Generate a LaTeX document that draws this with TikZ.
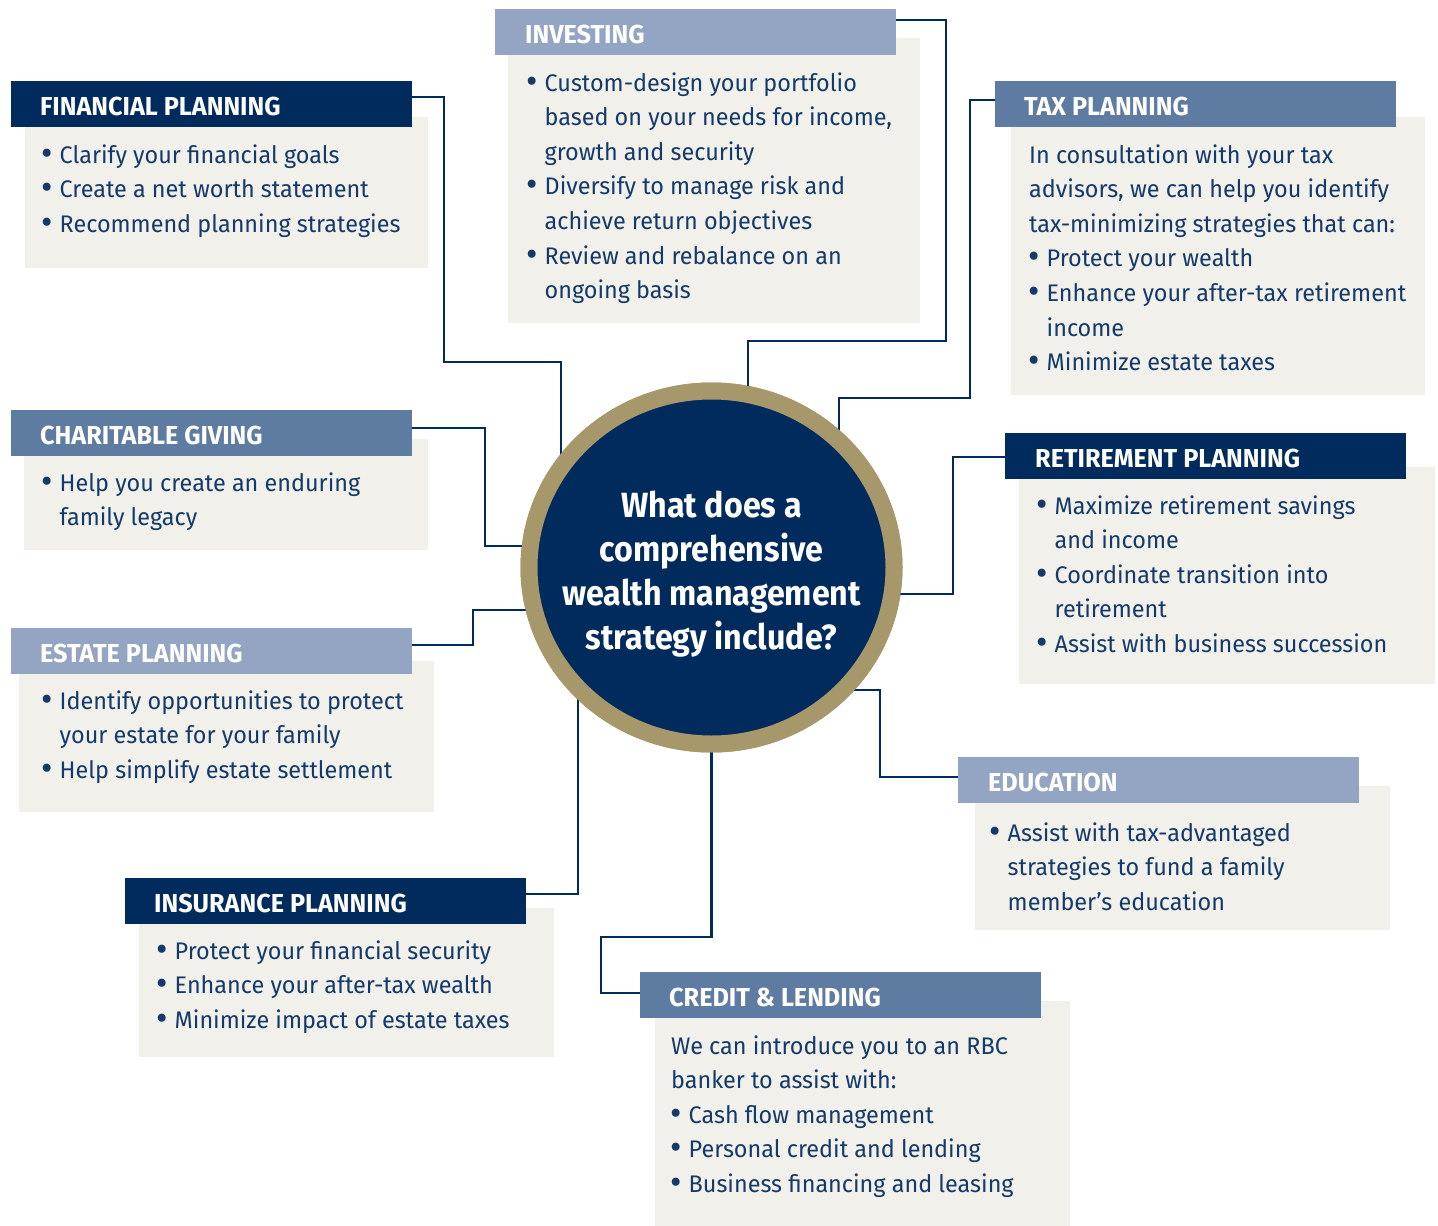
\documentclass[tikz,border=0pt]{standalone}
\usepackage{fontspec}
\setmainfont{Fira Sans}[FakeStretch=0.975]
\newfontfamily\hdfont{Fira Sans}[FakeStretch=0.97]
\newfontfamily\qfont{Fira Sans}[FakeStretch=0.92]
\usetikzlibrary{shapes.geometric}
\definecolor{navy}{HTML}{002B5C}
\definecolor{midblue}{HTML}{5E7BA2}
\definecolor{lightblue}{HTML}{93A5C3}
\definecolor{greybox}{HTML}{F1F0EB}
\definecolor{gold}{HTML}{A6986B}
\definecolor{txt}{HTML}{143A69}
\newcommand\bdot{\raisebox{-2pt}{\fontsize{36}{36}\selectfont\textbullet}}
\newcommand\bul[1]{\hbox{\makebox[17.5pt][l]{\kern-1pt\bdot}#1}}
\newcommand\cont[1]{\hbox{\kern17.5pt #1}}
\newcommand\pln[1]{\hbox{#1}}
\newcommand\blk[1]{\vtop{\baselineskip=34.6pt\lineskiplimit=-100pt #1}}
\begin{document}
\begin{tikzpicture}[x=1pt,y=-1pt,
  gbox/.style={fill=greybox,anchor=north west,inner sep=0,outer sep=0},
  hdr/.style={anchor=north west,inner sep=0,outer sep=0,minimum height=45.5pt,minimum width=400.5pt},
  hlab/.style={anchor=base west,inner sep=0,text=white,font=\fontsize{26}{30}\hdfont\bfseries},
  body/.style={anchor=base west,inner sep=0,text=txt,font=\fontsize{24}{34.6}\selectfont},
  conn/.style={draw=navy,line width=2.4pt},
  hubstyle/.style={ellipse,fill=navy,draw=gold,line width=17pt,minimum width=365pt,minimum height=353pt,inner sep=0}]
\useasboundingbox (0,0) rectangle (1438,1226);
% grey boxes
\node[gbox,minimum width=403pt,minimum height=151pt] (fpg) at (25,117) {};
\node[gbox,minimum width=412pt,minimum height=285pt] (ing) at (508,38) {};
\node[gbox,minimum width=414pt,minimum height=278pt] (tpg) at (1011,117) {};
\node[gbox,minimum width=404pt,minimum height=111pt] (cgg) at (24,439) {};
\node[gbox,minimum width=415pt,minimum height=151pt] (epg) at (19,661) {};
\node[gbox,minimum width=415pt,minimum height=149pt] (ipg) at (139,908) {};
\node[gbox,minimum width=416pt,minimum height=217pt] (rpg) at (1019,467) {};
\node[gbox,minimum width=415pt,minimum height=144pt] (edg) at (975,786) {};
\node[gbox,minimum width=415pt,minimum height=225pt] (clg) at (655,1001) {};
% header bars
\node[hdr,fill=navy] (fph) at (11,81) {};
\node[hdr,fill=lightblue] (inh) at (495,9) {};
\node[hdr,fill=midblue] (tph) at (995,81) {};
\node[hdr,fill=midblue] (cgh) at (11,410) {};
\node[hdr,fill=lightblue] (eph) at (11,628) {};
\node[hdr,fill=navy] (rph) at (1005,433) {};
\node[hdr,fill=lightblue] (edh) at (958,757) {};
\node[hdr,fill=navy] (iph) at (125,878) {};
\node[hdr,fill=midblue] (clh) at (640,972) {};
% header labels
\node[hlab] (fpl) at (40,115) {FINANCIAL PLANNING};
\node[hlab] (inl) at (525,43) {INVESTING};
\node[hlab] (tpl) at (1024,115) {TAX PLANNING};
\node[hlab] (cgl) at (40,444) {CHARITABLE GIVING};
\node[hlab] (epl) at (40,662) {ESTATE PLANNING};
\node[hlab] (rpl) at (1035,467) {RETIREMENT PLANNING};
\node[hlab] (edl) at (988,791) {EDUCATION};
\node[hlab] (ipl) at (154,912) {INSURANCE PLANNING};
\node[hlab] (cll) at (669,1006) {CREDIT \& LENDING};
% body texts
\node[body] (fpt) at (42,163) {\blk{\bul{Clarify your financial goals}\bul{Create a net worth statement}\bul{Recommend planning strategies}}};
\node[body] (intx) at (527,91) {\blk{\bul{Custom-design your portfolio}\cont{based on your needs for income,}\cont{growth and security}\bul{Diversify to manage risk and}\cont{achieve return objectives}\bul{Review and rebalance on an}\cont{ongoing basis}}};
\node[body] (tpt) at (1029,163) {\blk{\pln{In consultation with your tax}\pln{advisors, we can help you identify}\pln{tax-minimizing strategies that can:}\bul{Protect your wealth}\bul{Enhance your after-tax retirement}\cont{income}\bul{Minimize estate taxes}}};
\node[body] (cgt) at (42,491) {\blk{\bul{Help you create an enduring}\cont{family legacy}}};
\node[body] (ept) at (42,709) {\blk{\bul{Identify opportunities to protect}\cont{your estate for your family}\bul{Help simplify estate settlement}}};
\node[body] (ipt) at (157,959) {\blk{\bul{Protect your financial security}\bul{Enhance your after-tax wealth}\bul{Minimize impact of estate taxes}}};
\node[body] (rpt) at (1037,514) {\blk{\bul{Maximize retirement savings}\cont{and income}\bul{Coordinate transition into}\cont{retirement}\bul{Assist with business succession}}};
\node[body] (edt) at (990,841) {\blk{\bul{Assist with tax-advantaged}\cont{strategies to fund a family}\cont{member’s education}}};
\node[body] (clt) at (671,1054) {\blk{\pln{We can introduce you to an RBC}\pln{banker to assist with:}\bul{Cash flow management}\bul{Personal credit and lending}\bul{Business financing and leasing}}};
% hub (placed first so connectors can reference it)
\node[hubstyle] (hub) at (711.5,567.5) {};
% connectors
\draw[conn] (fph.north east) ++(0,16) -| (444,362) -| ([xshift=-150.5pt]hub.center);
\draw[conn] (inh.north east) ++(0,11) -| (946,341) -| ([xshift=36.5pt]hub.center);
\draw[conn] (tph.north west) ++(0,19) -| (970,398) -| ([xshift=127.5pt]hub.center);
\draw[conn] (cgh.north east) ++(0,18) -| (485,546) -- ([yshift=21.5pt]hub.center);
\draw[conn] (eph.north east) ++(0,17) -| (473,610) -- ([yshift=-42.5pt]hub.center);
\draw[conn] (iph.north east) ++(0,16) -| ([xshift=-133.5pt]hub.center);
\draw[conn] (rph.north west) ++(0,24) -| (953,594) -- ([yshift=-26.5pt]hub.center);
\draw[conn] (edh.north west) ++(0,20) -| (880,690) -- ([yshift=-122.5pt]hub.center);
\draw[conn] (clh.north west) ++(0,21) -| (601,937) -| (hub.center);
% hub redrawn on top of the connector ends
\node[hubstyle] (hubtop) at (hub.center) {};
\node[inner sep=0,anchor=base,text=white,font=\fontsize{35}{44}\qfont\bfseries] (q) at (711.5,517) {\vtop{\baselineskip=44pt\lineskiplimit=-100pt
 \hbox to 0pt{\hss What does a\hss}\hbox to 0pt{\hss comprehensive\hss}\hbox to 0pt{\hss wealth management\hss}\hbox to 0pt{\hss strategy include?\hss}}};
\end{tikzpicture}
\end{document}
